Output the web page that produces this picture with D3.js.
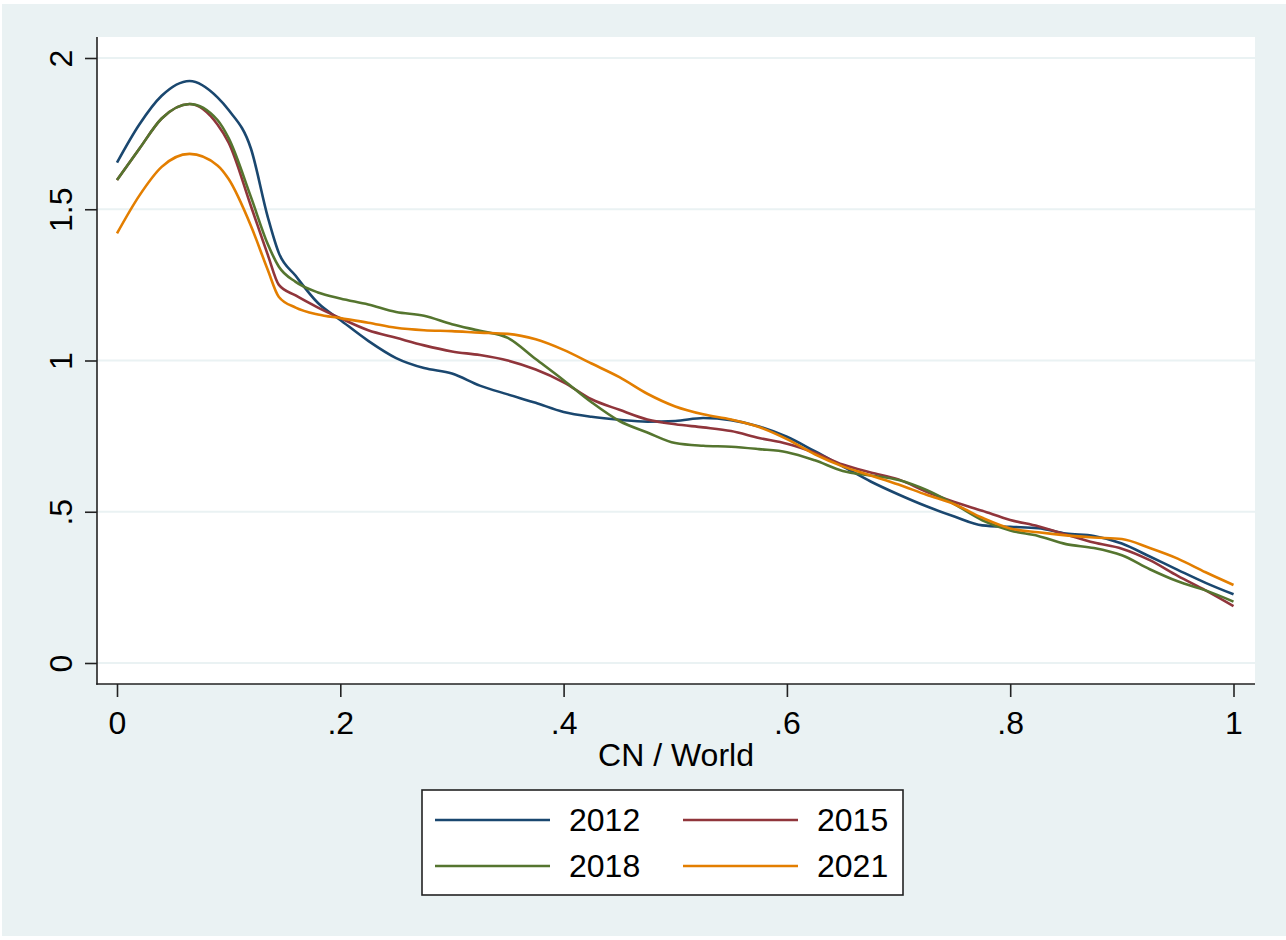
<!DOCTYPE html>
<html>
<head>
<meta charset="utf-8">
<script src="https://cdn.jsdelivr.net/npm/d3@7"></script>
<style>
  body { margin: 0; background: #ffffff; }
  text { font-family: Arial, "Liberation Sans", sans-serif; fill: #000; }
</style>
</head>
<body>
<script>
// density estimates
var xs = [0, 0.02, 0.04, 0.065, 0.09, 0.1, 0.12, 0.135, 0.145, 0.16, 0.18, 0.2, 0.225, 0.25, 0.275, 0.3, 0.325, 0.35, 0.375, 0.4, 0.425, 0.45, 0.475, 0.5, 0.525, 0.55, 0.575, 0.6, 0.625, 0.65, 0.675, 0.7, 0.725, 0.75, 0.775, 0.8, 0.825, 0.85, 0.875, 0.9, 0.925, 0.95, 0.975, 1];
var y2012 = [1.654, 1.78, 1.875, 1.924, 1.87, 1.828, 1.70, 1.475, 1.355, 1.28, 1.19, 1.134, 1.065, 1.008, 0.975, 0.957, 0.917, 0.888, 0.86, 0.83, 0.814, 0.804, 0.798, 0.8, 0.81, 0.803, 0.782, 0.748, 0.7, 0.65, 0.6, 0.557, 0.518, 0.484, 0.455, 0.45, 0.446, 0.428, 0.42, 0.395, 0.352, 0.308, 0.265, 0.227];
var y2015 = [1.597, 1.7, 1.8, 1.848, 1.78, 1.72, 1.51, 1.35, 1.25, 1.215, 1.175, 1.14, 1.1, 1.075, 1.05, 1.03, 1.018, 1.0, 0.97, 0.928, 0.872, 0.837, 0.805, 0.789, 0.779, 0.767, 0.744, 0.725, 0.695, 0.656, 0.63, 0.607, 0.566, 0.532, 0.503, 0.473, 0.452, 0.425, 0.398, 0.378, 0.34, 0.288, 0.24, 0.188];
var y2018 = [1.597, 1.7, 1.8, 1.848, 1.795, 1.735, 1.54, 1.385, 1.31, 1.26, 1.225, 1.205, 1.185, 1.16, 1.148, 1.12, 1.098, 1.075, 1.005, 0.935, 0.862, 0.8, 0.762, 0.727, 0.718, 0.715, 0.707, 0.697, 0.67, 0.635, 0.62, 0.605, 0.572, 0.525, 0.472, 0.438, 0.42, 0.393, 0.38, 0.356, 0.31, 0.27, 0.24, 0.203];
var y2021 = [1.42, 1.545, 1.64, 1.683, 1.645, 1.6, 1.445, 1.30, 1.21, 1.175, 1.152, 1.14, 1.125, 1.108, 1.1, 1.097, 1.092, 1.088, 1.07, 1.035, 0.99, 0.945, 0.89, 0.848, 0.822, 0.805, 0.78, 0.74, 0.69, 0.65, 0.62, 0.59, 0.556, 0.525, 0.48, 0.445, 0.432, 0.422, 0.415, 0.41, 0.38, 0.345, 0.3, 0.258];

var years = ["2012", "2015", "2018", "2021"];
var colors = ["#1a476f", "#90353b", "#55752f", "#e37e00"];
var xTicks = [0, 0.2, 0.4, 0.6, 0.8, 1];
var yTicks = [0, 0.5, 1, 1.5, 2];

var series = [y2012, y2015, y2018, y2021];

const width = 1286, height = 940;

const svg = d3.select("body")
    .append("svg")
    .attr("width", width)
    .attr("height", height);

// graph region
svg.append("rect")
    .attr("x", 2).attr("y", 4)
    .attr("width", width - 2).attr("height", 932)
    .attr("fill", "#eaf2f3");

// plot region
const plot = {left: 97, right: 1255, top: 37, bottom: 684};
svg.append("rect")
    .attr("x", plot.left).attr("y", plot.top)
    .attr("width", plot.right - plot.left).attr("height", plot.bottom - plot.top)
    .attr("fill", "#ffffff");

var x = d3.scaleLinear().domain([0, 1]).range([117, 1233.5]);
var y = d3.scaleLinear().domain([0, 2]).range([663, 58]);

// stata style labels: ".5" not "0.5"
var fmt = d => d === 0 ? "0" : String(d).replace(/^0\./, ".");

// grid lines
svg.append("g")
    .selectAll("line")
    .data(yTicks)
    .enter()
    .append("line")
    .attr("x1", plot.left).attr("x2", plot.right)
    .attr("y1", d => y(d)).attr("y2", d => y(d))
    .attr("stroke", "#eaf2f3")
    .attr("stroke-width", 2);

// y axis
var yAxis = svg.append("g")
    .attr("transform", "translate(" + plot.left + ",0)")
    .call(d3.axisLeft(y).tickValues(yTicks).tickSize(12).tickSizeOuter(0).tickFormat(fmt));
yAxis.select(".domain").remove();
yAxis.selectAll("line").attr("stroke", "#222").attr("stroke-width", 1.6);
yAxis.selectAll("text")
    .attr("font-size", "32px")
    .attr("font-family", "Arial, 'Liberation Sans', sans-serif")
    .attr("fill", "#000")
    .attr("x", null).attr("dy", null)
    .attr("text-anchor", "middle")
    .attr("transform", "translate(-25,0) rotate(-90)");

// x axis
var xAxis = svg.append("g")
    .attr("transform", "translate(0," + plot.bottom + ")")
    .call(d3.axisBottom(x).tickValues(xTicks).tickSize(13).tickSizeOuter(0).tickFormat(fmt));
xAxis.select(".domain").remove();
xAxis.selectAll("line").attr("stroke", "#222").attr("stroke-width", 1.6);
xAxis.selectAll("text")
    .attr("font-size", "32px")
    .attr("font-family", "Arial, 'Liberation Sans', sans-serif")
    .attr("fill", "#000")
    .attr("y", 50).attr("dy", null);

// axis lines
svg.append("line")
    .attr("x1", plot.left).attr("x2", plot.left)
    .attr("y1", plot.top).attr("y2", plot.bottom + 0.8)
    .attr("stroke", "#222").attr("stroke-width", 1.6);
svg.append("line")
    .attr("x1", plot.left - 0.8).attr("x2", plot.right)
    .attr("y1", plot.bottom).attr("y2", plot.bottom)
    .attr("stroke", "#222").attr("stroke-width", 1.6);

// axis title
svg.append("text")
    .attr("x", (plot.left + plot.right) / 2)
    .attr("y", 766)
    .attr("text-anchor", "middle")
    .attr("font-size", "32px")
    .text("CN / World");

// density lines
var line = d3.line()
    .x((d, i) => x(xs[i]))
    .y(d => y(d))
    .curve(d3.curveMonotoneX);

svg.append("g")
    .selectAll("path")
    .data(series)
    .enter()
    .append("path")
    .attr("d", line)
    .attr("fill", "none")
    .attr("stroke", (d, i) => colors[i])
    .attr("stroke-width", 2.6)
    .attr("stroke-linejoin", "round");

// legend
svg.append("rect")
    .attr("x", 422).attr("y", 790)
    .attr("width", 481).attr("height", 105)
    .attr("fill", "#ffffff")
    .attr("stroke", "#222")
    .attr("stroke-width", 1.6);

var items = svg.append("g")
    .selectAll("g")
    .data(years)
    .enter()
    .append("g")
    .attr("transform", (d, i) => "translate(" + (435 + (i % 2) * 248) + "," + (820 + Math.floor(i / 2) * 46) + ")");

items.append("line")
    .attr("x1", 0).attr("x2", 115)
    .attr("y1", 0).attr("y2", 0)
    .attr("stroke", (d, i) => colors[i])
    .attr("stroke-width", 2.6);

items.append("text")
    .attr("x", 134)
    .attr("y", 11)
    .attr("font-size", "32px")
    .text(d => d);
</script>
</body>
</html>
